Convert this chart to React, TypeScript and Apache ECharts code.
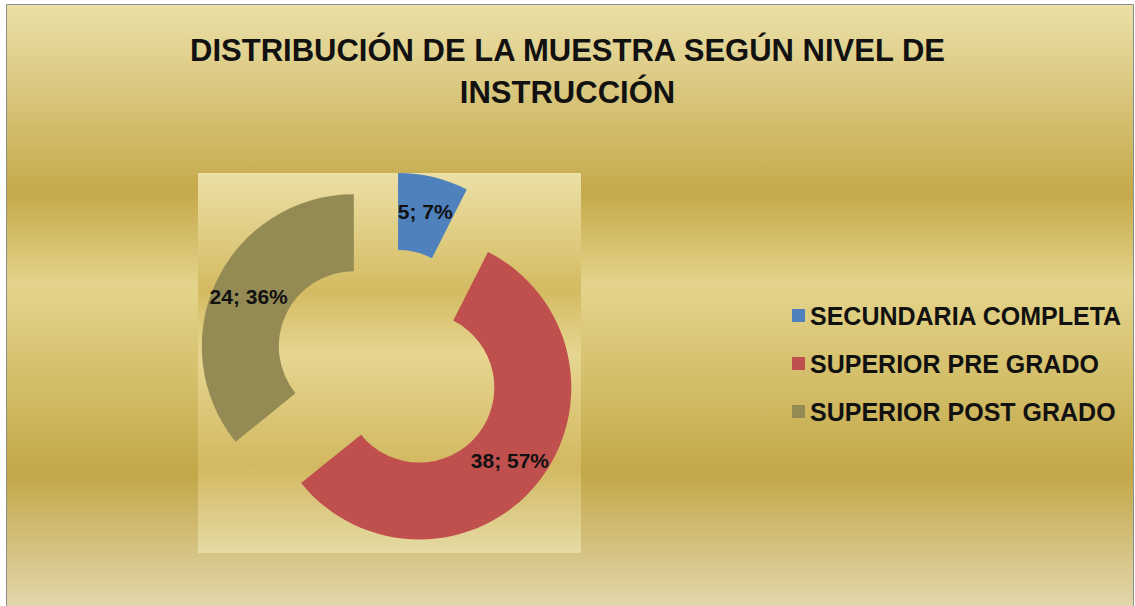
import React, { useEffect, useRef } from "react";
import * as echarts from "echarts";

const titleText = "DISTRIBUCIÓN DE LA MUESTRA SEGÚN NIVEL DE\nINSTRUCCIÓN";
const categories = ["SECUNDARIA COMPLETA", "SUPERIOR PRE GRADO", "SUPERIOR POST GRADO"];
const values = [5, 38, 24];
const colors = ["#4F81BD", "#C0504D", "#948A54"];

const FONT = "'Liberation Sans', Arial, sans-serif";

const goldStops = [
  { offset: 0, color: "#ebe0a8" },
  { offset: 0.31, color: "#c5a94b" },
  { offset: 0.46, color: "#e4d48b" },
  { offset: 0.77, color: "#c3a849" },
  { offset: 1, color: "#e4d9b2" },
];
const plotStops = [
  { offset: 0, color: "#ece0a6" },
  { offset: 0.31, color: "#d4bb62" },
  { offset: 0.48, color: "#e6d691" },
  { offset: 0.77, color: "#d2b860" },
  { offset: 1, color: "#e6dba6" },
];

export default function App() {
  const ref = useRef<HTMLDivElement>(null);
  useEffect(() => {
    if (!ref.current) return;
    const chart = echarts.init(ref.current, undefined, { renderer: "svg" });
    const total = values.reduce((a, b) => a + b, 0);
    chart.setOption({
      animation: false,
      backgroundColor: "#ffffff",
      graphic: [
        {
          type: "rect",
          z: -10,
          shape: { x: 6.5, y: 4.5, width: 1127, height: 610 },
          style: {
            fill: new echarts.graphic.LinearGradient(0, 0, 0, 1, goldStops),
            stroke: "#8c8c8c",
            lineWidth: 1,
          },
        },
        {
          type: "rect",
          z: -9,
          shape: { x: 198, y: 173, width: 383, height: 380 },
          style: {
            fill: new echarts.graphic.LinearGradient(0, 0, 0, 1, plotStops),
          },
        },
      ],
      title: {
        text: titleText,
        left: "center",
        top: 24,
        textStyle: {
          fontFamily: FONT,
          fontSize: 31,
          fontWeight: "bold",
          lineHeight: 42,
          color: "#111111",
        },
      },
      legend: {
        orient: "vertical",
        left: 787,
        top: 298,
        icon: "rect",
        itemWidth: 13,
        itemHeight: 13,
        itemGap: 23,
        data: categories,
        textStyle: {
          fontFamily: FONT,
          fontSize: 25,
          fontWeight: "bold",
          color: "#111111",
        },
      },
      series: [
        {
          type: "pie",
          center: [389, 363],
          radius: [75, 152],
          startAngle: 90,
          clockwise: true,
          selectedMode: "multiple",
          selectedOffset: 39,
          avoidLabelOverlap: false,
          emphasis: { disabled: true },
          select: { itemStyle: { borderWidth: 0 } },
          label: {
            show: true,
            position: "inside",
            fontFamily: FONT,
            fontSize: 21,
            fontWeight: "bold",
            color: "#111111",
            formatter: (p: any) => `${p.value}; ${Math.round((p.value / total) * 100)}%`,
          },
          labelLine: { show: false },
          data: categories.map((name, i) => ({
            name,
            value: values[i],
            selected: true,
            itemStyle: { color: colors[i] },
          })),
        },
      ],
    });
    return () => chart.dispose();
  }, []);
  return (
    <div
      ref={ref}
      style={{ position: "fixed", left: 0, top: 0, width: 1135, height: 606 }}
    />
  );
}
